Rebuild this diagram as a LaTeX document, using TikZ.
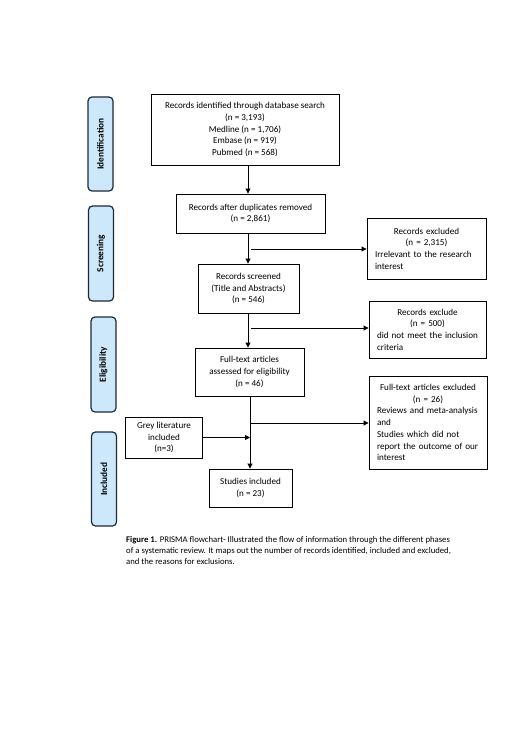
\documentclass[tikz,border=0pt]{standalone}
\usepackage{fontspec}
\setmainfont{Carlito}
\usetikzlibrary{arrows.meta}
\definecolor{phasefill}{RGB}{204,232,250}
\definecolor{phaseline}{RGB}{30,40,52}
\newcommand{\cl}[1]{\makebox[\hsize][c]{#1}}
\begin{document}
\begin{tikzpicture}[x=1pt,y=-1pt,
  box/.style={draw=black, line width=0.9pt, inner sep=0pt, align=center,
    font=\fontsize{9.1}{11.7}\selectfont},
  exbox/.style={draw=black, line width=0.9pt, inner sep=0pt, align=left,
    font=\fontsize{9.1}{11.7}\selectfont},
  phase/.style={draw=phaseline, fill=phasefill, line width=1.2pt, rounded corners=4pt,
    rotate=90, inner sep=0pt, minimum height=25pt,
    font=\fontsize{9.3}{11.7}\selectfont\bfseries},
  arr/.style={line width=0.9pt, -{Triangle[length=5pt,width=5pt]}},
  ln/.style={line width=0.9pt}
]
\useasboundingbox (0,0) rectangle (520,736);
% phase labels
\node[phase, minimum width=94pt] (pid) at (100.5,144) {Identification};
\node[phase, minimum width=95pt] (psc) at (101,253.5) {Screening};
\node[phase, minimum width=95pt] (pel) at (103.5,364.5) {Eligibility};
\node[phase, minimum width=94pt] (pin) at (104,479) {Included};
% main boxes
\node[box, minimum width=188pt, minimum height=71pt] (b1) at (245,129.5)
  {Records identified through database search\\(n = 3,193)\\Medline (n = 1,706)\\Embase (n = 919)\\Pubmed (n = 568)};
\node[box, minimum width=149pt, minimum height=39pt] (b2) at (250.5,213.5)
  {Records after duplicates removed\\(n = 2,861)};
\node[box, minimum width=101pt, minimum height=49pt] (b3) at (248.5,288.5)
  {Records screened\\(Title and Abstracts)\\(n = 546)};
\node[box, minimum width=109pt, minimum height=48pt] (b4) at (249.5,372)
  {Full-text articles\\assessed for eligibility\\(n = 46)};
\node[box, minimum width=83pt, minimum height=38pt] (b5) at (250.5,488)
  {Studies included\\(n = 23)};
\node[box, minimum width=77pt, minimum height=41pt] (grey) at (164,437.5)
  {Grey literature\\included\\(n=3)};
% exclusion boxes
\node[exbox, minimum width=119pt, minimum height=61pt, text width=103pt] (e1) at (426.5,248.5)
  {\cl{Records excluded}\\\cl{(n = 2,315)}\\\mbox{Irrelevant to the research}\\\mbox{interest}};
\node[exbox, minimum width=117pt, minimum height=57pt, text width=101pt] (e2) at (427.5,329.5)
  {\cl{Records exclude}\\\cl{(n = 500)}\\\mbox{did not meet the inclusion}\\\mbox{criteria}};
\node[exbox, minimum width=118pt, minimum height=93pt, text width=102pt] (e3) at (428,422.5)
  {\cl{Full-text articles excluded}\\\cl{(n = 26)}\\\mbox{Reviews and meta-analysis}\\\mbox{and}\\\mbox{Studies which did not}\\\mbox{report the outcome of our}\\\mbox{interest}};
% spine coordinates
\coordinate (s1) at (248,0);
\coordinate (s2) at (250,0);
\coordinate (k1) at (251,249);
\coordinate (k2) at (251,328);
\coordinate (k3) at (251,423);
% connectors
\draw[arr] (b1.south -| s1) -- (b2.north -| s1);
\draw[arr] (b2.south -| s1) -- (b3.north -| s1);
\draw[arr] (k1) -- (e1.west |- k1);
\draw[arr] (b3.south -| s1) -- (b4.north -| s1);
\draw[arr] (k2) -- (e2.west |- k2);
\draw[arr] (b4.south -| s2) -- (b5.north -| s2);
\draw[arr] (k3) -- (e3.west |- k3);
\draw[arr] (grey.east) -- (grey.east -| s2);
% caption
\node[anchor=north west, inner sep=0pt, align=left, font=\fontsize{8.7}{11}\selectfont] (cap) at (126,536.5)
  {\textbf{Figure 1.} PRISMA flowchart- Illustrated the flow of information through the different phases\\
   of a systematic review. It maps out the number of records identified, included and excluded,\\
   and the reasons for exclusions.};
\end{tikzpicture}
\end{document}
